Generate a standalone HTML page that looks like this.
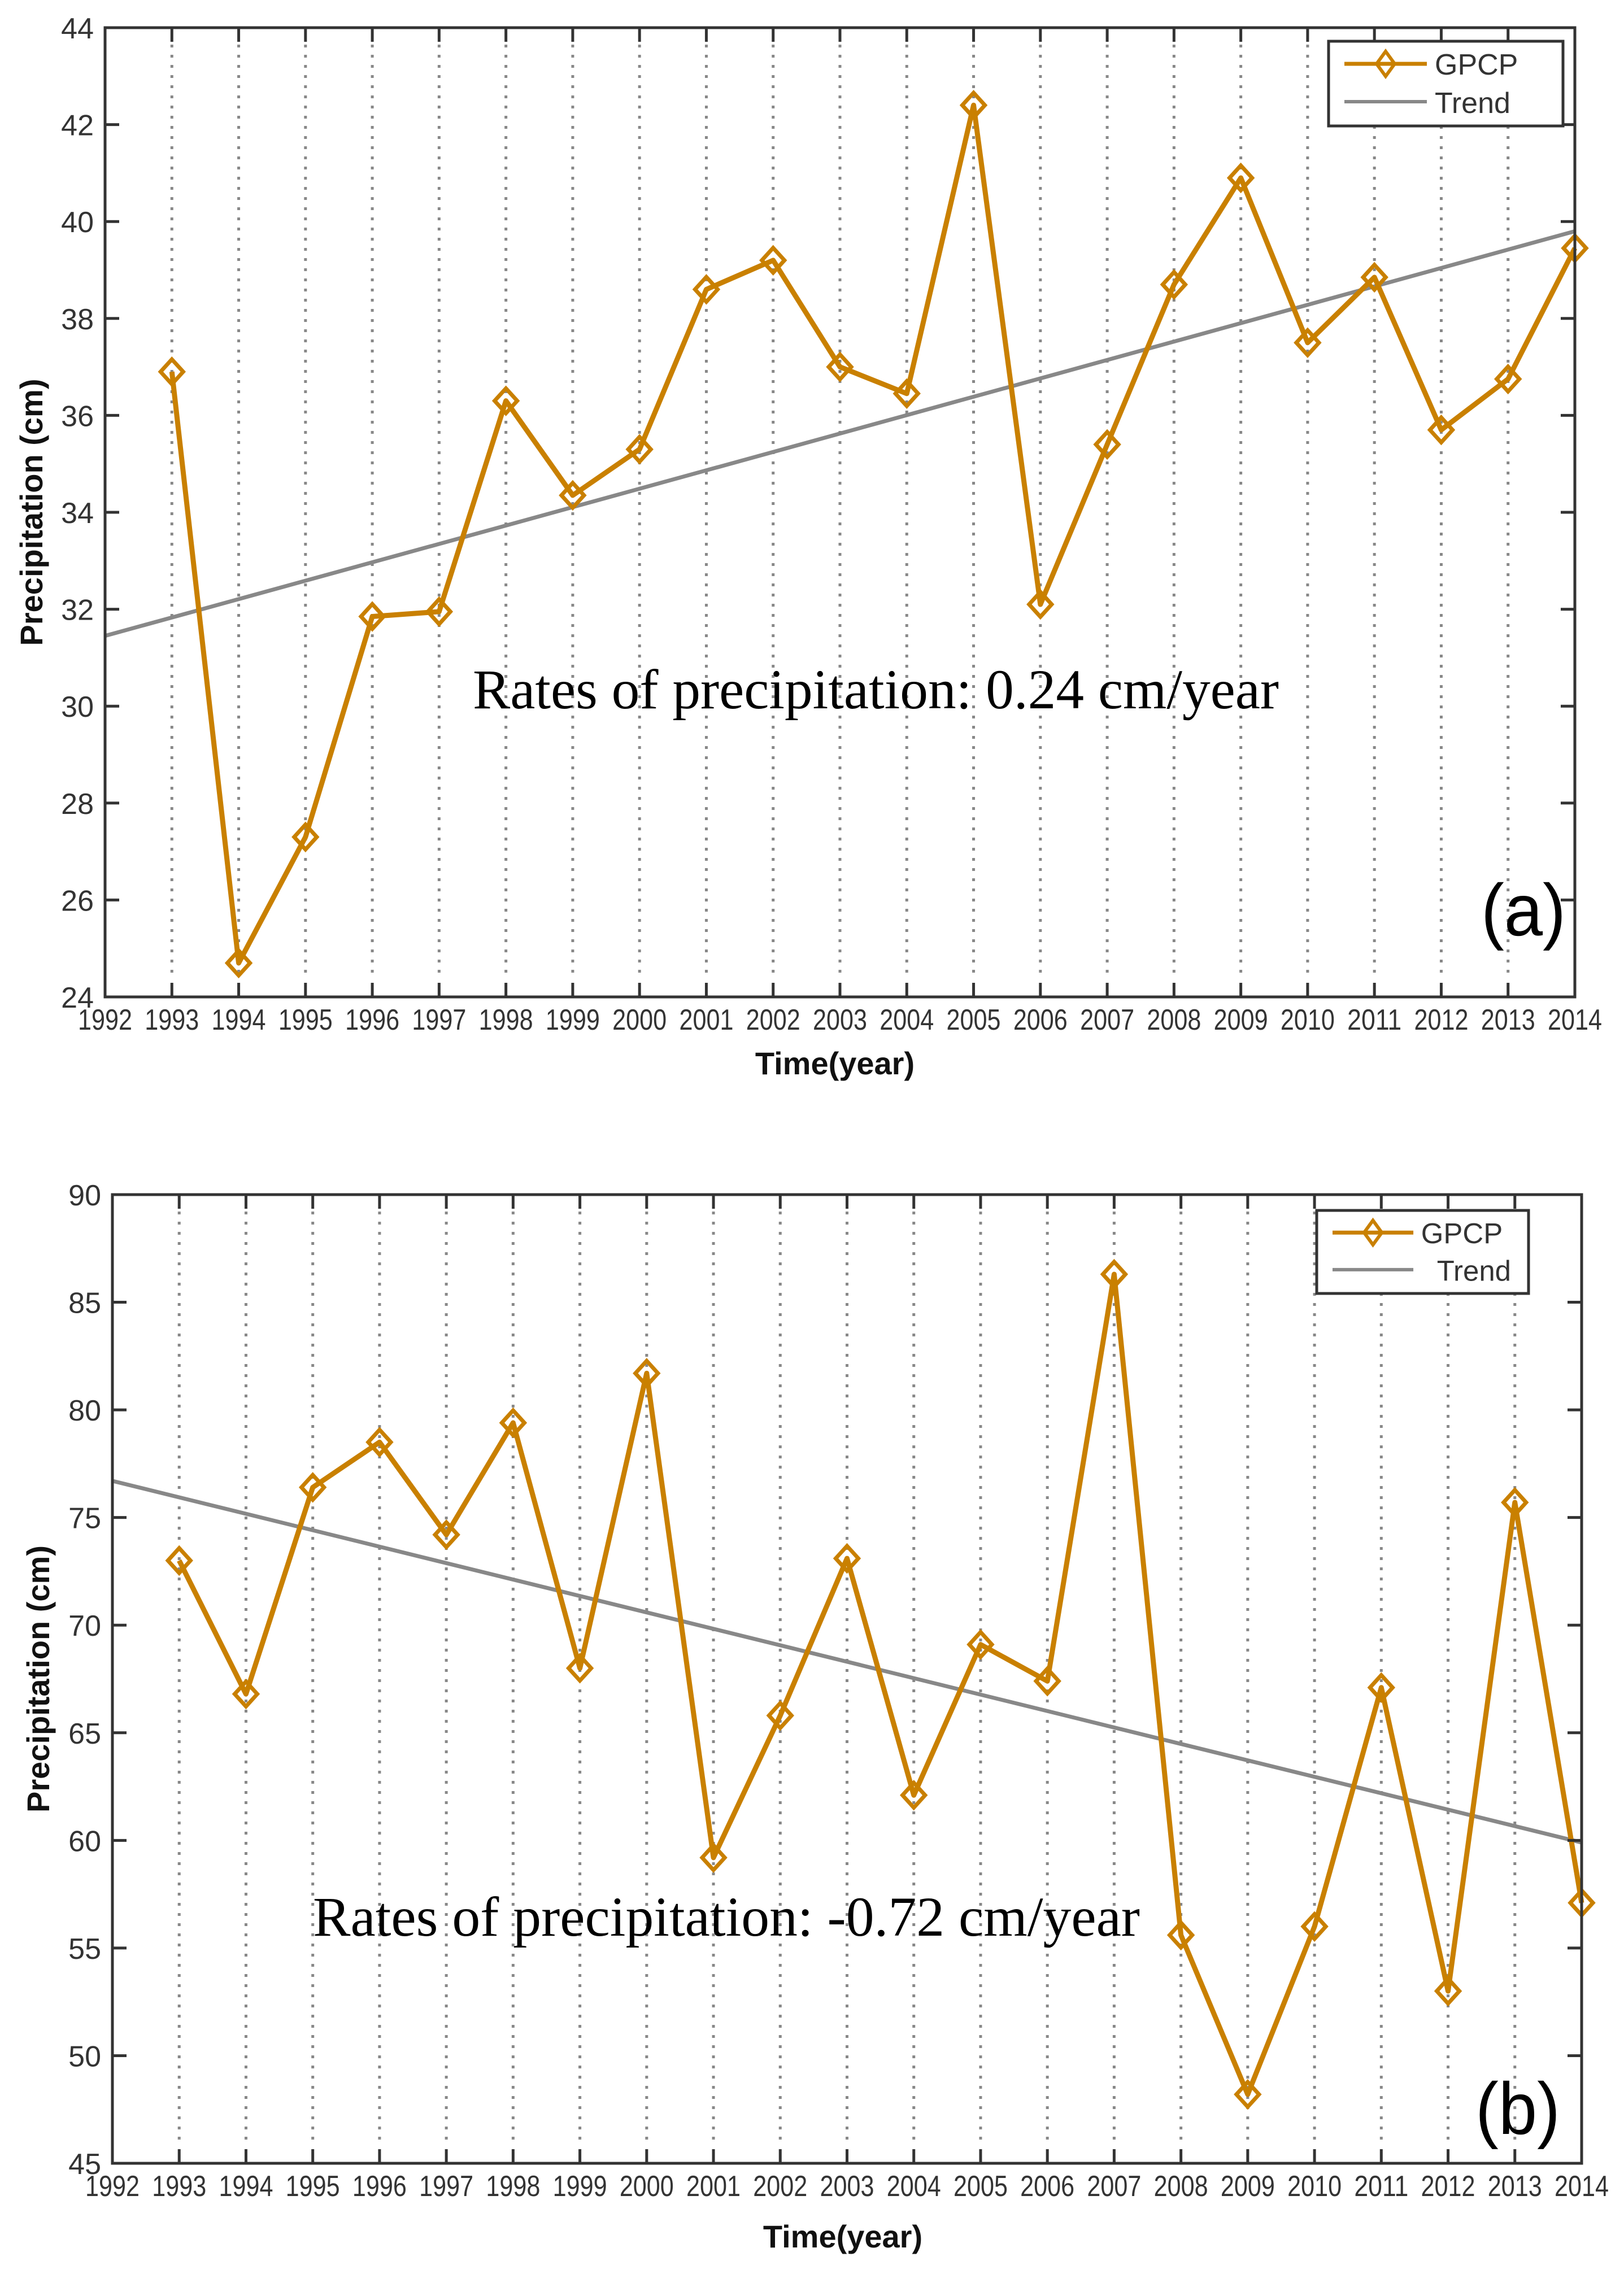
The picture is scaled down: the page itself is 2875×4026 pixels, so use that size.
<!DOCTYPE html>
<html><head><meta charset="utf-8"><style>
html,body{margin:0;padding:0;background:#fff;}
svg{display:block;}
</style></head><body>
<svg id="fig" width="2875" height="4026" viewBox="0 0 2875 4026" xmlns="http://www.w3.org/2000/svg">
<rect width="2875" height="4026" fill="#fff"/>
</svg>
<script>
const years = [1993,1994,1995,1996,1997,1998,1999,2000,2001,2002,2003,2004,2005,2006,2007,2008,2009,2010,2011,2012,2013,2014];
const xTicks = [1992,1993,1994,1995,1996,1997,1998,1999,2000,2001,2002,2003,2004,2005,2006,2007,2008,2009,2010,2011,2012,2013,2014];
const gpcpA = [36.9,24.7,27.3,31.85,31.95,36.3,34.35,35.3,38.6,39.2,37.0,36.45,42.4,32.1,35.4,38.7,40.9,37.5,38.85,35.7,36.75,39.45];
const trendA = [31.45,39.8];
const yTicksA = [24,26,28,30,32,34,36,38,40,42,44];
const gpcpB = [73.0,66.8,76.4,78.5,74.2,79.4,68.0,81.7,59.2,65.8,73.1,62.1,69.1,67.4,86.3,55.6,48.2,56.0,67.1,53.0,75.7,57.1];
const trendB = [76.7,59.9];
const yTicksB = [45,50,55,60,65,70,75,80,85,90];
const trendYears = [1992,2014];

const NS = 'http://www.w3.org/2000/svg';
const svg = document.getElementById('fig');
function mk(tag, attrs, parent){const e=document.createElementNS(NS,tag);for(const k in attrs)e.setAttribute(k,attrs[k]);(parent||svg).appendChild(e);return e;}

function panel(p){
  const g = mk('g',{});
  
  
  const X = v => p.L + (v - xTicks[0])/(xTicks[xTicks.length-1]-xTicks[0])*(p.R-p.L);
  const Y = v => p.B - (v - p.ymin)/(p.ymax-p.ymin)*(p.B-p.T);
  xTicks.forEach(t=>{
    if(t===xTicks[0]||t===xTicks[xTicks.length-1]) return;
    const l = mk('line',{x1:X(t),x2:X(t),y1:p.T+30,y2:p.B-30,stroke:'#888','stroke-width':5,'stroke-dasharray':'5 13'},g);
    
    
  });
  const tr = mk('line',{x1:X(trendYears[0]),y1:Y(p.trend[0]),x2:X(trendYears[1]),y2:Y(p.trend[1]),stroke:'#888','stroke-width':7},g);
  
  
  const pts = years.map((y,i)=>X(y)+','+Y(p.data[i])).join(' ');
  const pl = mk('polyline',{points:pts,fill:'none',stroke:'#C98000','stroke-width':9,'stroke-linejoin':'round'},g);
  
  
  years.forEach((y,i)=>{
    const cx=X(y), cy=Y(p.data[i]);
    const d = mk('polygon',{points:`${cx},${cy-22} ${cx+20},${cy} ${cx},${cy+22} ${cx-20},${cy}`,fill:'none',stroke:'#C98000','stroke-width':7},g);
    
    
  });
  const box = mk('rect',{x:p.L,y:p.T,width:p.R-p.L,height:p.B-p.T,fill:'none',stroke:'#333','stroke-width':5},g);
  
  
  xTicks.forEach(t=>{
    mk('line',{x1:X(t),x2:X(t),y1:p.B,y2:p.B-25,stroke:'#333','stroke-width':5},g);
    mk('line',{x1:X(t),x2:X(t),y1:p.T,y2:p.T+25,stroke:'#333','stroke-width':5},g);
    const tx = mk('text',{x:X(t),y:p.B+58,'text-anchor':'middle','font-family':'Liberation Sans, sans-serif','font-size':52,fill:'#333',textLength:96,lengthAdjust:'spacingAndGlyphs'},g);
    tx.textContent=t;
    
    
  });
  p.yTicks.forEach(t=>{
    mk('line',{x1:p.L,x2:p.L+25,y1:Y(t),y2:Y(t),stroke:'#333','stroke-width':5},g);
    mk('line',{x1:p.R,x2:p.R-25,y1:Y(t),y2:Y(t),stroke:'#333','stroke-width':5},g);
    const tx = mk('text',{x:p.L-20,y:Y(t)+19,'text-anchor':'end','font-family':'Liberation Sans, sans-serif','font-size':52,fill:'#333'},g);
    tx.textContent=t;
    
    
  });
  const xt = mk('text',{x:p.xtX,y:p.xtY,'text-anchor':'middle','font-family':'Liberation Sans, sans-serif','font-size':56,'font-weight':'bold',fill:'#111'},g);
  xt.textContent='Time(year)';
  
  
  const cyMid=(p.T+p.B)/2;
  const yt = mk('text',{x:p.ytX,y:cyMid,'text-anchor':'middle','font-family':'Liberation Sans, sans-serif','font-size':56,'font-weight':'bold',fill:'#111',transform:`rotate(-90 ${p.ytX} ${cyMid})`},g);
  yt.textContent='Precipitation (cm)';
  
  
  const an = mk('text',{x:p.anX,y:p.anY,'font-family':'Liberation Serif, serif','font-size':100,fill:'#000',textLength:p.anW,lengthAdjust:'spacingAndGlyphs'},g);
  an.textContent=p.anText;
  
  
  const pn = mk('text',{x:p.plX,y:p.plY,'font-family':'Liberation Sans, sans-serif','font-size':130,fill:'#000',textLength:150,lengthAdjust:'spacingAndGlyphs'},g);
  pn.textContent=p.plText;
  
  
  const lg = mk('g',{},g);
  
  
  const lx=p.lg[0], ly=p.lg[1], lw=p.lg[2], lh=p.lg[3];
  mk('rect',{x:lx,y:ly,width:lw,height:lh,fill:'#fff',stroke:'#333','stroke-width':5},lg);
  const s=lh/150;
  mk('line',{x1:lx+28,x2:lx+28+146*s,y1:ly+38*s+2,y2:ly+38*s+2,stroke:'#C98000','stroke-width':7},lg);
  const dx=lx+28+73*s, dy=ly+38*s+2;
  mk('polygon',{points:`${dx},${dy-22*s} ${dx+16*s},${dy} ${dx},${dy+22*s} ${dx-16*s},${dy}`,fill:'none',stroke:'#C98000','stroke-width':6},lg);
  const t1=mk('text',{x:lx+28+160*s,y:ly+59*s,'font-family':'Liberation Sans, sans-serif','font-size':52*s,fill:'#333'},lg);
  t1.textContent='GPCP';
  
  
  mk('line',{x1:lx+28,x2:lx+28+146*s,y1:ly+107*s,y2:ly+107*s,stroke:'#888','stroke-width':6},lg);
  const t2=mk('text',{x:lx+28+160*s+p.trOff,y:ly+127*s,'font-family':'Liberation Sans, sans-serif','font-size':52*s,fill:'#333'},lg);
  t2.textContent='Trend';
  
  
}

panel({name:'chart-a',L:186,R:2788,T:49,B:1765,ymin:24,ymax:44,yTicks:yTicksA,data:gpcpA,trend:trendA,
  xtX:1478,xtY:1902,ytX:75,anX:837,anY:1254,anW:1427,anText:'Rates of precipitation:  0.24  cm/year',
  plX:2622,plY:1656,plText:'(a)',lg:[2352,73,415,150],trOff:0});
panel({name:'chart-b',L:199,R:2800,T:2115,B:3830,ymin:45,ymax:90,yTicks:yTicksB,data:gpcpB,trend:trendB,
  xtX:1492,xtY:3979,ytX:87,anX:554,anY:3427,anW:1464,anText:'Rates of precipitation:  -0.72  cm/year',
  plX:2612,plY:3778,plText:'(b)',lg:[2331,2143,375,147],trOff:28});
</script>
</body></html>
